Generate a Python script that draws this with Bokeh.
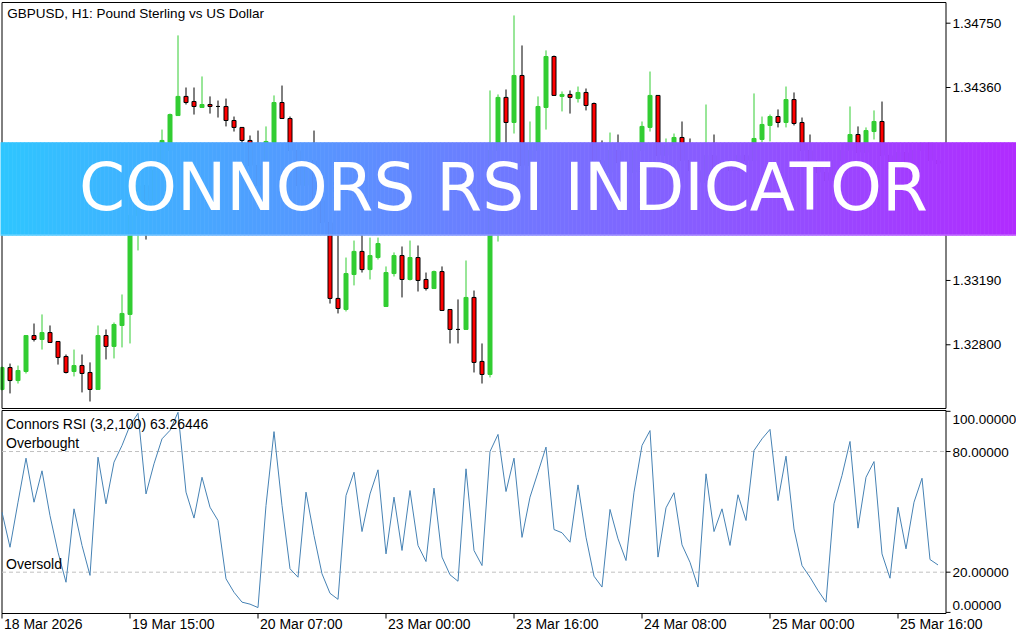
from bokeh.plotting import figure
from bokeh.models import Range1d, ColumnDataSource
from bokeh.core.properties import value
from bokeh.embed import file_html
from bokeh.resources import INLINE

# ---------------- data ----------------
title_text = "GBPUSD, H1:  Pound Sterling vs US Dollar"
indicator_text = "Connors RSI (3,2,100) 63.26446"
banner_text = "CONNORS RSI INDICATOR"

opens = [1.32529, 1.32662, 1.32583, 1.32638, 1.32856, 1.32832, 1.32874, 1.32820, 1.32729, 1.32638,
         1.32674, 1.32632, 1.32529, 1.32856, 1.32790, 1.32917, 1.32984, 1.33584, 1.33766, 1.33675,
         1.33857, 1.33978, 1.34190, 1.34306, 1.34275, 1.34239, 1.34257, 1.34245, 1.34245, 1.34160,
         1.34118, 1.34039, 1.33887, 1.33766, 1.34027, 1.34269, 1.34172, 1.33978, 1.33766, 1.33917,
         1.33675, 1.33541, 1.33081, 1.33014, 1.33226, 1.33366, 1.33256, 1.33329, 1.33032, 1.33232,
         1.33341, 1.33196, 1.33329, 1.33196, 1.33141, 1.33244, 1.33014, 1.32893, 1.32893, 1.33087,
         1.32699, 1.32620, 1.33978, 1.34300, 1.34148, 1.34433, 1.33887, 1.33978, 1.34239, 1.34548,
         1.34306, 1.34318, 1.34293, 1.34330, 1.34263, 1.33917, 1.33845, 1.33978, 1.33905, 1.33845,
         1.33978, 1.34118, 1.34312, 1.33948, 1.34008, 1.34057, 1.33917, 1.33857, 1.33784, 1.33948,
         1.33869, 1.33917, 1.33857, 1.33948, 1.33917, 1.34045, 1.34130, 1.34184, 1.34148, 1.34287,
         1.34148, 1.33978, 1.33917, 1.33845, 1.33796, 1.33917, 1.33978, 1.34075, 1.33966, 1.34093,
         1.34154, 1.33948, 1.33869, 1.33966, 1.33887, 1.33978, 1.34021, 1.33917]
highs = [1.32668, 1.32686, 1.32674, 1.32856, 1.32929, 1.32984, 1.32917, 1.32820, 1.32741, 1.32771,
         1.32741, 1.32693, 1.32917, 1.32893, 1.32935, 1.33105, 1.33645, 1.33827, 1.33808, 1.33917,
         1.34105, 1.34202, 1.34676, 1.34360, 1.34360, 1.34427, 1.34306, 1.34281, 1.34293, 1.34184,
         1.34118, 1.34069, 1.34099, 1.34124, 1.34312, 1.34372, 1.34184, 1.33990, 1.33948, 1.34099,
         1.33705, 1.33566, 1.33493, 1.33329, 1.33432, 1.33481, 1.33450, 1.33450, 1.33275, 1.33360,
         1.33396, 1.33432, 1.33402, 1.33238, 1.33250, 1.33275, 1.33014, 1.33075, 1.33311, 1.33129,
         1.32808, 1.34342, 1.34318, 1.34348, 1.34797, 1.34615, 1.34154, 1.34306, 1.34585, 1.34554,
         1.34336, 1.34342, 1.34366, 1.34354, 1.34269, 1.34039, 1.34087, 1.34075, 1.33948, 1.34008,
         1.34154, 1.34457, 1.34312, 1.34051, 1.34081, 1.34154, 1.34051, 1.33887, 1.34257, 1.34075,
         1.33978, 1.33948, 1.33990, 1.33990, 1.34324, 1.34184, 1.34196, 1.34227, 1.34366, 1.34330,
         1.34178, 1.34075, 1.33948, 1.33869, 1.33948, 1.34008, 1.34245, 1.34124, 1.34118, 1.34221,
         1.34275, 1.33978, 1.33990, 1.33978, 1.34008, 1.34021, 1.34021, 1.33948]
lows = [1.32523, 1.32505, 1.32565, 1.32626, 1.32820, 1.32771, 1.32814, 1.32680, 1.32626, 1.32608,
        1.32511, 1.32456, 1.32529, 1.32711, 1.32717, 1.32784, 1.32808, 1.33372, 1.33438, 1.33645,
        1.33827, 1.33966, 1.34190, 1.34257, 1.34196, 1.34239, 1.34202, 1.34178, 1.34124, 1.34093,
        1.34021, 1.33857, 1.33736, 1.33736, 1.33990, 1.34172, 1.33948, 1.33736, 1.33723, 1.33645,
        1.33505, 1.33050, 1.32990, 1.33002, 1.33160, 1.33238, 1.33196, 1.33317, 1.33032, 1.33214,
        1.33087, 1.33190, 1.33123, 1.33129, 1.33141, 1.33008, 1.32808, 1.32808, 1.32893, 1.32632,
        1.32565, 1.32602, 1.33426, 1.33978, 1.34081, 1.33857, 1.33845, 1.33948, 1.34105, 1.34312,
        1.34215, 1.34202, 1.34269, 1.34221, 1.33887, 1.33808, 1.33827, 1.33869, 1.33808, 1.33827,
        1.33960, 1.34093, 1.33917, 1.33917, 1.33978, 1.33887, 1.33827, 1.33748, 1.33772, 1.33845,
        1.33845, 1.33827, 1.33839, 1.33887, 1.33899, 1.34027, 1.34033, 1.34118, 1.34118, 1.34130,
        1.33948, 1.33887, 1.33808, 1.33772, 1.33778, 1.33899, 1.33948, 1.33942, 1.33948, 1.34045,
        1.33917, 1.33827, 1.33845, 1.33857, 1.33869, 1.33948, 1.33887, 1.33869]
closes = [1.32662, 1.32583, 1.32644, 1.32856, 1.32832, 1.32874, 1.32814, 1.32723, 1.32632, 1.32674,
          1.32626, 1.32529, 1.32856, 1.32790, 1.32923, 1.32990, 1.33584, 1.33766, 1.33675, 1.33857,
          1.34039, 1.34196, 1.34306, 1.34269, 1.34245, 1.34257, 1.34245, 1.34245, 1.34160, 1.34118,
          1.34039, 1.33887, 1.33766, 1.34033, 1.34269, 1.34172, 1.33978, 1.33766, 1.33917, 1.33675,
          1.33541, 1.33081, 1.33020, 1.33232, 1.33366, 1.33256, 1.33341, 1.33414, 1.33238, 1.33341,
          1.33196, 1.33329, 1.33190, 1.33141, 1.33244, 1.33008, 1.32893, 1.32893, 1.33087, 1.32693,
          1.32620, 1.33978, 1.34300, 1.34148, 1.34433, 1.33887, 1.33978, 1.34245, 1.34548, 1.34312,
          1.34318, 1.34300, 1.34330, 1.34251, 1.33917, 1.33845, 1.33978, 1.33905, 1.33845, 1.33978,
          1.34124, 1.34312, 1.33948, 1.34008, 1.34057, 1.33917, 1.33857, 1.33784, 1.33948, 1.33869,
          1.33917, 1.33857, 1.33948, 1.33917, 1.34051, 1.34136, 1.34184, 1.34148, 1.34287, 1.34142,
          1.33978, 1.33917, 1.33845, 1.33796, 1.33917, 1.33978, 1.34075, 1.33966, 1.34099, 1.34154,
          1.33948, 1.33869, 1.33966, 1.33887, 1.33978, 1.34021, 1.33917, 1.33899]
crsi = [49.8, 32.4, 54.8, 76.7, 54.8, 70.4, 48.1, 29.9, 15.0, 51.5,
        33.3, 18.4, 77.2, 54.0, 74.7, 83.0, 93.0, 99.0, 58.9, 73.9,
        86.3, 90.5, 99.5, 59.8, 46.9, 67.2, 52.3, 45.7, 16.7, 10.0,
        5.1, 4.1, 2.4, 53.2, 89.9, 53.2, 21.7, 17.5, 59.8, 38.2,
        19.2, 9.5, 6.5, 58.1, 69.7, 40.2, 58.9, 70.9, 29.1, 57.3,
        30.8, 60.6, 33.3, 25.3, 61.8, 27.5, 18.7, 15.5, 71.4, 30.8,
        23.3, 80.0, 88.5, 60.1, 76.7, 37.3, 57.3, 69.7, 82.2, 41.2,
        39.6, 34.9, 63.4, 37.4, 18.0, 12.6, 51.2, 36.6, 25.8, 59.8,
        83.0, 90.4, 27.5, 52.0, 59.5, 33.6, 24.9, 12.6, 68.9, 40.2,
        51.5, 33.3, 58.5, 45.7, 80.5, 86.3, 91.0, 55.6, 77.7, 41.5,
        23.3, 17.5, 10.9, 5.1, 54.0, 68.1, 85.0, 41.9, 67.2, 75.0,
        29.1, 17.0, 52.3, 31.6, 54.8, 66.7, 26.3, 23.6]

price_ticks = [1.34750, 1.34360, 1.33190, 1.32800]
price_tick_labels = ["1.34750", "1.34360", "1.33190", "1.32800"]
rsi_ticks = [100, 80, 20, 0]
rsi_tick_labels = ["100.00000", "80.00000", "20.00000", "0.00000"]
levels = [80, 20]
level_names = ["Overbought", "Oversold"]
time_ticks = [0, 16, 32, 48, 64, 80, 96, 112]
time_labels = ["18 Mar 2026", "19 Mar 15:00", "20 Mar 07:00", "23 Mar 00:00",
               "23 Mar 16:00", "24 Mar 08:00", "25 Mar 00:00", "25 Mar 16:00"]

# ---------------- layout (pixels) ----------------
W, H = 1016, 632
OX, OY = 0.5, 0.0          # shift between reference pixels and figure pixels
BAR_PX = 8.0
BAR0_X = 2.0               # x of the first bar centre
P_REF, P_REF_Y, P_SCALE = 1.34750, 22.7, 16491.0   # price scale: px per unit
R_TOP_Y, R_BOT_Y = 410.8, 611.9                     # rsi 100 / 0 positions


def tx(rx):
    return rx - OX


def ty(ry):
    return H - (ry - OY)


def price_at(ry):
    return P_REF - (ry - P_REF_Y) / P_SCALE


def rsi_at(ry):
    return 100.0 - (ry - R_TOP_Y) * 100.0 / (R_BOT_Y - R_TOP_Y)


x0 = (OX - BAR0_X) / BAR_PX
p = figure(width=W, height=H, output_backend="svg", toolbar_location=None,
           x_range=Range1d(x0, x0 + W / BAR_PX),
           y_range=Range1d(price_at(H + OY), price_at(OY)),
           x_axis_location=None, y_axis_location=None, min_border=0)
p.outline_line_color = None
p.grid.visible = False
p.background_fill_color = "white"
p.border_fill_color = "white"
p.extra_x_ranges = {"px": Range1d(0, W)}
p.extra_y_ranges = {"px": Range1d(0, H), "rsi": Range1d(rsi_at(H + OY), rsi_at(OY))}

FONT = value("Liberation Sans")
GREEN = "#32CD32"
RED = "#FF0000"

# ---------------- candles ----------------
idx = list(range(len(opens)))
bull = [c > o for o, c in zip(opens, closes)]
src = ColumnDataSource(dict(
    x=idx, o=opens, h=highs, l=lows, c=closes,
    top=[max(o, c) for o, c in zip(opens, closes)],
    bot=[min(o, c) for o, c in zip(opens, closes)],
    wick=[GREEN if b else "black" for b in bull],
    fill=[GREEN if b else RED for b in bull],
))
p.segment(x0="x", y0="l", x1="x", y1="h", line_color="wick", line_width=1, source=src)
p.vbar(x="x", width=0.5, top="top", bottom="bot", fill_color="fill",
       line_color="wick", line_width=1, source=src)

# ---------------- panel frames ----------------
p.quad(left=[tx(2), tx(2)], right=[tx(946), tx(946)], top=[ty(2), ty(410)],
       bottom=[ty(408), ty(613)], fill_color=None, line_color="black", line_width=1,
       x_range_name="px", y_range_name="px")

# ---------------- Connors RSI ----------------
p.segment(x0=[tx(2)] * len(levels), x1=[tx(946)] * len(levels), y0=levels, y1=levels,
          line_color="#C0C0C0", line_width=1, line_dash="4 3",
          x_range_name="px", y_range_name="rsi")
p.line(idx, crsi, line_color="#4682B4", line_width=1, y_range_name="rsi")

# ---------------- axes (ticks + labels) ----------------
p.segment(x0=[tx(946)] * len(price_ticks), x1=[tx(950.5)] * len(price_ticks),
          y0=price_ticks, y1=price_ticks, line_color="black", x_range_name="px")
p.text(x=[tx(952.5)] * len(price_ticks), y=price_ticks, text=price_tick_labels,
       text_font=FONT, text_font_size="13.5px", text_color="black",
       text_align="left", text_baseline="middle", x_range_name="px")
p.segment(x0=[tx(946)] * len(rsi_ticks), x1=[tx(950.5)] * len(rsi_ticks),
          y0=rsi_ticks, y1=rsi_ticks, line_color="black",
          x_range_name="px", y_range_name="rsi")
p.text(x=[tx(952.5)] * len(rsi_ticks), y=rsi_ticks, text=rsi_tick_labels,
       y_offset=[8.5, 0.7, 0.7, -7.0],
       text_font=FONT, text_font_size="13.5px", text_color="black",
       text_align="left", text_baseline="middle",
       x_range_name="px", y_range_name="rsi")
p.segment(x0=time_ticks, x1=time_ticks, y0=[ty(613)] * len(time_ticks),
          y1=[ty(618)] * len(time_ticks), line_color="black", y_range_name="px")
p.text(x=time_ticks, y=[ty(623.5)] * len(time_ticks), text=time_labels, x_offset=2,
       text_font=FONT, text_font_size="14px", text_color="black",
       text_align="left", text_baseline="middle", y_range_name="px")

# ---------------- captions ----------------
p.text(x=[tx(7.3)], y=[ty(13.2)], text=[title_text], text_font=FONT,
       text_font_size="13.5px", text_color="black", text_align="left",
       text_baseline="middle", x_range_name="px", y_range_name="px")
p.text(x=[tx(6)], y=[ty(423.2)], text=[indicator_text], text_font=FONT,
       text_font_size="14px", text_color="black", text_align="left",
       text_baseline="middle", x_range_name="px", y_range_name="px")
p.text(x=[tx(6)] * len(levels), y=levels, text=level_names, y_offset=-8.3,
       text_font=FONT, text_font_size="14px", text_color="black",
       text_align="left", text_baseline="middle",
       x_range_name="px", y_range_name="rsi")

# ---------------- gradient banner ----------------
c_left = (46, 198, 255)
c_right = (178, 42, 255)
step = 4
lefts, rights, cols = [], [], []
for xs in range(0, W, step):
    t = min(1.0, max(0.0, (xs + step / 2 + OX) / 1024.0))
    rgb = tuple(int(round(a + (b - a) * t)) for a, b in zip(c_left, c_right))
    lefts.append(xs)
    rights.append(xs + step)
    cols.append("#%02x%02x%02x" % rgb)
p.quad(left=lefts, right=rights, top=[ty(142)] * len(lefts), bottom=[ty(235)] * len(lefts),
       fill_color=cols, line_color=cols, line_width=0.6,
       x_range_name="px", y_range_name="px")
p.segment(x0=[0], x1=[W], y0=[ty(234.5)], y1=[ty(234.5)], line_color="white",
          line_alpha=0.35, line_width=1, x_range_name="px", y_range_name="px")
p.text(x=[tx(503.4)], y=[ty(186.5)], text=[banner_text], text_font=value("DejaVu Sans"),
       text_font_size="66px", text_color="white",
       text_align="center", text_baseline="middle",
       x_range_name="px", y_range_name="px")

open("out.html", "w").write(file_html(p, INLINE))
